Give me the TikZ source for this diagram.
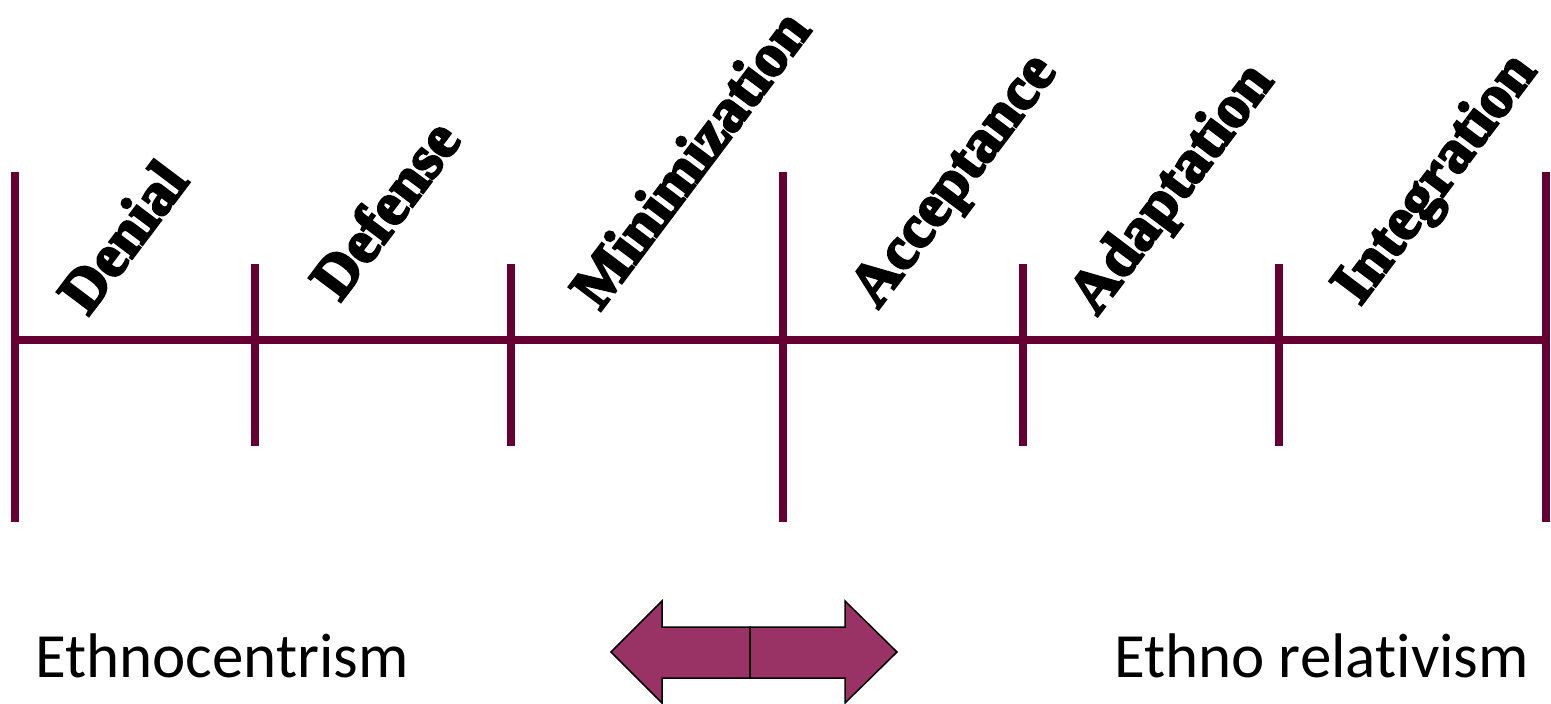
\documentclass[tikz,border=0pt]{standalone}
\usepackage{fontspec}
\setmainfont{Liberation Serif}
\newfontfamily\heavyserif[FakeBold=4]{Liberation Serif Bold}
\newfontfamily\calib[Ligatures=NoCommon]{Carlito}
\definecolor{linecol}{HTML}{660033}
\definecolor{arrowcol}{HTML}{993366}
\begin{document}
\begin{tikzpicture}[x=1pt,y=-1pt,
  scaleline/.style={draw=linecol,line width=8pt},
  stage/.style={rotate=53,anchor=base west,inner sep=0pt,font=\heavyserif\fontsize{61}{61}\selectfont},
  pole/.style={anchor=base west,inner sep=0pt,font=\calib\fontsize{63}{63}\selectfont},
  arrowpart/.style={fill=arrowcol,draw=black,line width=1.5pt,line join=miter}]
\useasboundingbox (0,0) rectangle (1551,704);
% tick tops and bottoms
\coordinate (t0) at (15,172);   \coordinate (b0) at (15,522);
\coordinate (t1) at (255,264);  \coordinate (b1) at (255,446);
\coordinate (t2) at (511,264);  \coordinate (b2) at (511,446);
\coordinate (t3) at (783,172);  \coordinate (b3) at (783,522);
\coordinate (t4) at (1023,264); \coordinate (b4) at (1023,446);
\coordinate (t5) at (1279,264); \coordinate (b5) at (1279,446);
\coordinate (t6) at (1546,172); \coordinate (b6) at (1546,522);
\coordinate (hl) at (15,340);   \coordinate (hr) at (1550,340);
\draw[scaleline] (hl) -- (hr);
\foreach \i in {0,...,6} {\draw[scaleline] (t\i) -- (b\i);}
% stage labels
\node[stage] (denial) at (88,317) {Denial};
\node[stage] (defense) at (340,303) {Defense};
\node[stage] (minim) at (600,312) {Minimization};
\node[stage] (accept) at (878,310) {Acceptance};
\node[stage] (adapt) at (1097,317) {Adaptation};
\node[stage] (integ) at (1360,307) {Integration};
% poles
\node[pole] (ethnoc) at (35,677) {Ethnocentrism};
\node[pole] (ethnor) at (1114,677) {Ethno relativism};
% double arrow
\draw[arrowpart] (750,627) -- (662,627) -- (662,601) -- (611,652) -- (662,703) -- (662,678) -- (750,678) -- cycle;
\draw[arrowpart] (750,627) -- (845,627) -- (845,601) -- (897,652) -- (845,703) -- (845,678) -- (750,678) -- cycle;
\end{tikzpicture}
\end{document}
